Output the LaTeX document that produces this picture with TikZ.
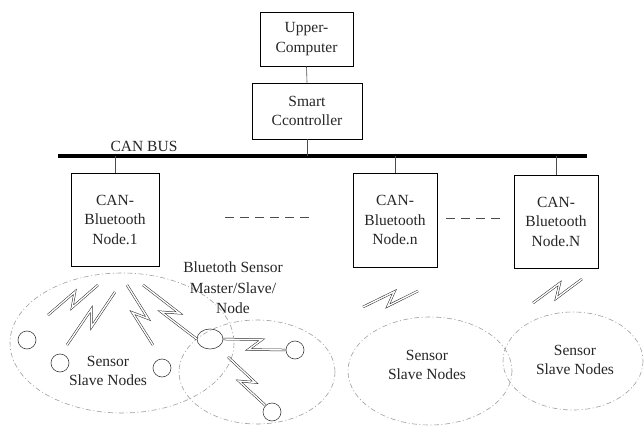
\documentclass[tikz,border=0pt]{standalone}
\usepackage{fontspec}
\setmainfont{Liberation Serif}
\usetikzlibrary{calc,shapes.geometric}
\tikzset{
  box/.style={draw, line width=0.8pt, rectangle, inner sep=0pt, align=center, text=black!85},
  lbl/.style={align=center, text=black!85, inner sep=0pt},
  link/.style={line width=0.6pt, black!70},
  zone/.style={gray!75, line width=0.6pt, dash pattern=on 5pt off 2.5pt on 1pt off 2.5pt},
  sensor/.style={draw, circle, minimum size=18pt, inner sep=0pt, line width=0.6pt, black!75},
  boltline/.style={double=white, double distance=1.4pt, line width=0.5pt, black!85, line join=miter},
  gap/.style={line width=0.6pt, black!70, dash pattern=on 9pt off 6pt}
}
\newcommand{\zbolt}[3]{%
  \draw[boltline] (#1) -- ($(#1)!0.6!(#2)!#3!90:(#2)$) -- ($(#1)!0.42!(#2)!#3!-90:(#2)$) -- (#2);}
\begin{document}
\begin{tikzpicture}[x=1pt, y=-1pt, font=\fontsize{15.5}{19.5}\selectfont]
\useasboundingbox (0,0) rectangle (644,435);
\fill[white] (0,0) rectangle (644,435);

% boxes
\node[box, minimum width=93pt, minimum height=54pt] (upper) at (306.5,39) {Upper-\\Computer};
\node[box, minimum width=110pt, minimum height=56pt] (smart) at (307,111) {Smart\\Ccontroller};
\node[box, minimum width=88pt, minimum height=93pt] (n1) at (115,219.5) {CAN-\\Bluetooth\\Node.1};
\node[box, minimum width=84pt, minimum height=94pt] (nn) at (395,220) {CAN-\\Bluetooth\\Node.n};
\node[box, minimum width=84pt, minimum height=93pt] (nN) at (556,221.5) {CAN-\\Bluetooth\\Node.N};

% bus
\coordinate (busL) at (58,156);
\coordinate (busR) at (587,156);
\draw[line width=4.5pt] (busL) -- (busR);
\node[lbl] (buslbl) at (144,146) {CAN BUS};

% vertical links
\draw[link] (upper.south) -- (smart.north);
\draw[link] (smart.south) -- (smart.south |- busL);
\draw[link] (n1.north) -- (n1.north |- busL);
\draw[link] (nn.north) -- (nn.north |- busL);
\draw[link] (nN.north) -- (nN.north |- busL);

% gaps between node boxes
\coordinate (g1a) at (225,217);
\coordinate (g1b) at (309,217);
\coordinate (g2a) at (446,218);
\coordinate (g2b) at (500,218);
\draw[gap] (g1a) -- (g1b);
\draw[gap] (g2a) -- (g2b);

% zones
\draw[zone] (122,343) ellipse [x radius=112, y radius=70];
\draw[zone] (257,372) ellipse [x radius=78, y radius=52];
\draw[zone] (430,371) ellipse [x radius=82, y radius=54];
\draw[zone] (573,361) ellipse [x radius=70, y radius=49];

% sensor nodes
\node[sensor] (s1) at (27,340) {};
\node[sensor] (s2) at (60,363) {};
\node[sensor] (s3) at (162,368) {};
\node[draw, ellipse, minimum width=26pt, minimum height=20pt, inner sep=0pt, line width=0.6pt, black!75] (master) at (210,339) {};
\node[sensor] (s4) at (295,350) {};
\node[sensor] (s5) at (272,412) {};

% labels
\node[lbl, font=\fontsize{15.5}{20.5}\selectfont] (mlbl) at (233,288) {Bluetoth Sensor\\Master/Slave/\\Node};
\node[lbl] (z1) at (108,371) {Sensor\\Slave Nodes};
\node[lbl] (z3) at (427,365) {Sensor\\Slave Nodes};
\node[lbl] (z4) at (575,360) {Sensor\\Slave Nodes};

% bolts
\coordinate (b1a) at (48,315);  \coordinate (b1b) at (98,285);
\coordinate (b2a) at (67,345);  \coordinate (b2b) at (115,292);
\coordinate (b3a) at (127,285); \coordinate (b3b) at (153,345);
\coordinate (b4a) at (143,285);
\coordinate (b6a) at (228,357);
\coordinate (b7a) at (363,307); \coordinate (b7b) at (418,291);
\coordinate (b8a) at (533,303); \coordinate (b8b) at (582,279);
\zbolt{b1a}{b1b}{6pt}
\zbolt{b2a}{b2b}{6pt}
\zbolt{b3a}{b3b}{6pt}
\zbolt{b4a}{master.west}{6pt}
\zbolt{master.east}{s4.west}{6pt}
\zbolt{b6a}{s5.north west}{6pt}
\zbolt{b7a}{b7b}{6pt}
\zbolt{b8a}{b8b}{6pt}
\end{tikzpicture}
\end{document}
